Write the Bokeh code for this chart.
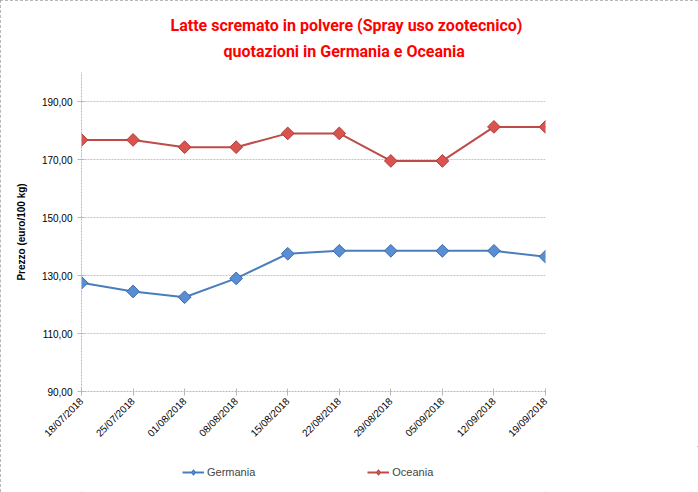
import math
from bokeh.plotting import figure
from bokeh.layouts import column
from bokeh.models import Range1d, FixedTicker, Legend, LegendItem, Title
from bokeh.embed import file_html
from bokeh.resources import INLINE

dates = ["18/07/2018", "25/07/2018", "01/08/2018", "08/08/2018", "15/08/2018",
         "22/08/2018", "29/08/2018", "05/09/2018", "12/09/2018", "19/09/2018"]
germania = [127.5, 124.5, 122.5, 129.0, 137.5, 138.5, 138.5, 138.5, 138.5, 136.5]
oceania = [176.75, 176.75, 174.25, 174.25, 179.0, 179.0, 169.5, 169.5, 181.25, 181.25]
y_ticks = [90, 110, 130, 150, 170, 190]
y_tick_labels = ["90,00", "110,00", "130,00", "150,00", "170,00", "190,00"]
title_lines = ["Latte scremato in polvere (Spray uso zootecnico)", "quotazioni in Germania e Oceania"]
y_label = "Prezzo (euro/100 kg)"
series_names = ["Germania", "Oceania"]

x = list(range(len(dates)))

p = figure(width=698, height=446, output_backend="svg", toolbar_location=None,
           x_range=Range1d(0, len(dates) - 1), y_range=Range1d(90, 200),
           min_border_left=81, min_border_right=153, min_border_top=72, min_border_bottom=55)
p.outline_line_color = None
p.background_fill_color = "white"
p.border_fill_color = "white"

FONT = "Liberation Sans"

# title (two lines, second closest to the plot)
t2 = Title(text=title_lines[1], align="left", offset=142,
           text_font="Roboto", text_font_size="16px", text_font_style="bold",
           text_color="#FF0000", standoff=23)
t1 = Title(text=title_lines[0], align="left", offset=89,
           text_font="Roboto", text_font_size="16px", text_font_style="bold",
           text_color="#FF0000", standoff=-12)
p.add_layout(t2, "above")
p.add_layout(t1, "above")

# axes
p.yaxis.ticker = FixedTicker(ticks=y_ticks)
p.yaxis.major_label_overrides = {v: s for v, s in zip(y_ticks, y_tick_labels)}
p.yaxis.axis_label = y_label
p.yaxis.axis_label_text_font = FONT
p.yaxis.axis_label_text_font_size = "10px"
p.yaxis.axis_label_text_font_style = "bold"
p.yaxis.axis_label_standoff = 12
p.yaxis.major_label_text_font = FONT
p.yaxis.major_label_text_font_size = "10px"
p.yaxis.major_label_standoff = 5
p.yaxis.minor_tick_line_color = None

p.xaxis.ticker = FixedTicker(ticks=x)
p.xaxis.major_label_overrides = {i: d for i, d in zip(x, dates)}
p.xaxis.major_label_orientation = math.pi / 4
p.xaxis.major_label_text_font = FONT
p.xaxis.major_label_text_font_size = "10px"
p.xaxis.major_label_standoff = 4
p.xaxis.minor_tick_line_color = None

for ax in (p.xaxis, p.yaxis):
    ax.axis_line_color = "#b8b8b8"
    ax.axis_line_dash = "2 1"
    ax.major_tick_line_color = "#b8b8b8"
    ax.major_tick_in = 3
    ax.major_tick_out = 4
    ax.major_label_text_color = "#000000"
    ax.axis_label_text_color = "#000000"

p.xgrid.grid_line_color = None
p.ygrid.grid_line_color = "#c4c4c4"
p.ygrid.grid_line_dash = "2 1"

# legend strip below the chart
lf = figure(width=698, height=46, output_backend="svg", toolbar_location=None,
            x_range=Range1d(-100, -99), y_range=Range1d(-100, -99),
            x_axis_location=None, y_axis_location=None,
            min_border_left=0, min_border_right=0, min_border_top=0, min_border_bottom=0)
lf.outline_line_color = None
lf.xgrid.grid_line_color = None
lf.ygrid.grid_line_color = None
lf.border_fill_color = "white"
lf.background_fill_color = "white"

# series
colors = {"Germania": ("#4A7EBB", "#5A8ED3", "#3A6AAE"),
          "Oceania": ("#BE4B48", "#D9534F", "#B03C39")}
items = []
for name, vals in zip(series_names, [germania, oceania]):
    lc, fc, bc = colors[name]
    p.line(x, vals, line_color=lc, line_width=2)
    p.scatter(x, vals, marker="square", angle=math.pi / 4, size=9,
              fill_color=fc, line_color=bc, line_width=1)
    ln = lf.line(x, vals, line_color=lc, line_width=2)
    sc = lf.scatter(x, vals, marker="diamond", size=11,
                    fill_color=fc, line_color=bc, line_width=1)
    items.append(LegendItem(label=name, renderers=[ln, sc]))

legend = Legend(items=items, orientation="horizontal", location=(101, 13),
                label_text_font=FONT, label_text_font_size="11px",
                glyph_width=22, glyph_height=14, label_standoff=3, spacing=112,
                border_line_color=None, background_fill_alpha=0, padding=2, margin=0)
lf.add_layout(legend, "center")

layout = column(p, lf, spacing=0)
layout.styles = {"outline": "1px dashed #a0a0a0", "outline-offset": "-1px"}

open("out.html", "w").write(file_html(layout, INLINE))
